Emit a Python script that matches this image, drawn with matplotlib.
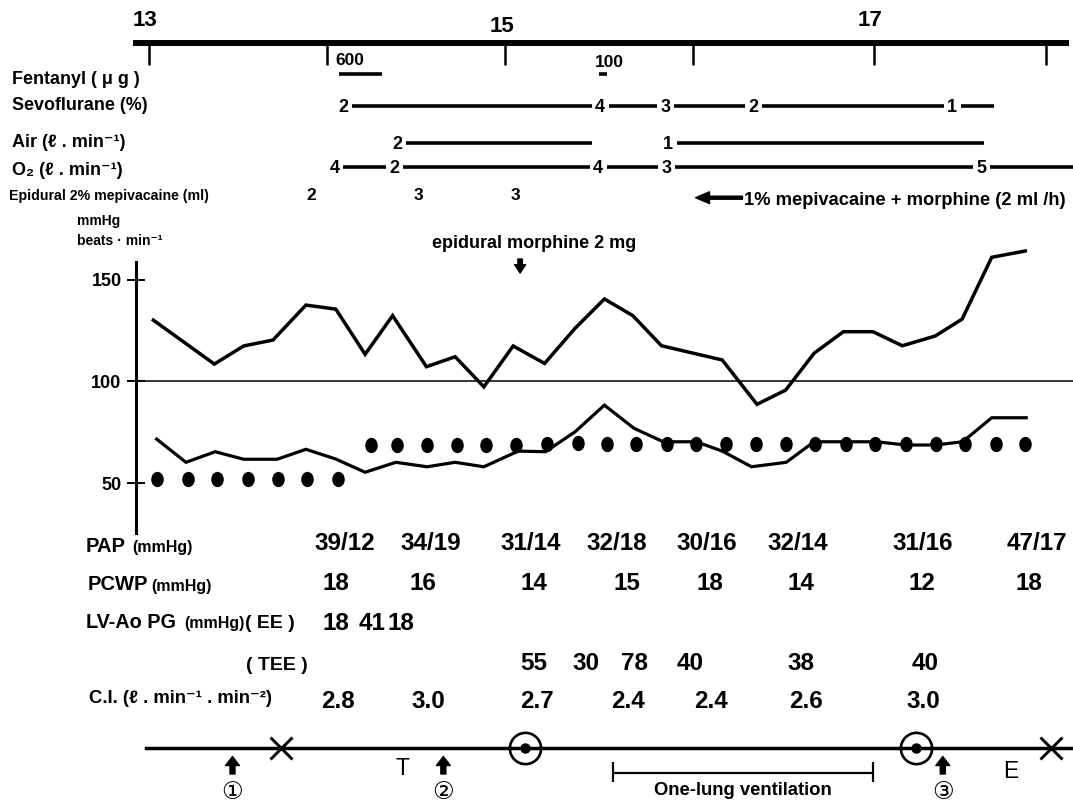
import matplotlib
matplotlib.use("Agg")
import matplotlib.pyplot as plt
from matplotlib.markers import MarkerStyle
from matplotlib.transforms import Affine2D, blended_transform_factory

plt.rcParams["font.family"] = ["Liberation Sans", "DejaVu Sans"]
plt.rcParams["font.weight"] = "bold"

W, H = 1073, 805

# ---- time base: minutes after 13:00 ----
hour_ticks = [0, 59, 118, 180, 240, 297]
hour_names = ["13", "15", "17"]
hour_name_pos = [0, 118, 240]

# ---- anaesthetic record ----
fentanyl_dose = ["600", "100"]
fentanyl_start = [62.9, 149.0]
fentanyl_stop = [77.1, 151.6]

sevo_times = [64.3, 149.4, 171.1, 200.0, 265.9]
sevo_vals = ["2", "4", "3", "2", "1"]
sevo_stops = [149.4, 171.1, 200.0, 265.9, 279.9]

air_times = [82.2, 171.9]
air_vals = ["2", "1"]
air_stops = [146.7, 276.3]

o2_times = [61.6, 81.2, 148.7, 171.5, 275.5]
o2_vals = ["4", "2", "4", "3", "5"]
o2_stops = [81.2, 148.7, 171.5, 275.5, 306.0]

mepi_times = [53.7, 89.1, 121.5]
mepi_vals = ["2", "3", "3"]
infusion_start = 181.0
morphine_time = 122.9

# ---- haemodynamics (mmHg, beats/min) ----
upper_t = [1.5, 21.7, 31.4, 41.1, 52.0, 61.9, 71.6, 80.7, 91.9, 101.4, 110.9, 120.6, 131.0, 141.1,
           150.8, 160.2, 169.7, 189.8, 201.3, 210.8, 220.2, 229.9, 239.7, 249.4, 260.3, 269.2, 279.0, 290.1]
upper_v = [130.1, 108.5, 117.4, 120.3, 137.5, 135.5, 113.3, 132.3, 107.2, 112.1, 97.3, 117.4, 108.8, 126.1,
           140.5, 132.3, 117.5, 110.5, 88.7, 95.7, 113.8, 124.4, 124.4, 117.5, 122.3, 130.6, 161.0, 164.1]

lower_t = [2.6, 12.3, 22.0, 31.4, 42.5, 52.0, 61.9, 71.6, 81.8, 92.1, 101.4, 110.9, 122.3, 131.3, 141.1,
           150.8, 160.6, 170.3, 181.2, 189.8, 199.5, 211.0, 220.2, 230.5, 240.8, 250.5, 260.3, 269.4, 279.0, 290.4]
lower_v = [71.6, 60.2, 65.4, 61.7, 61.7, 66.6, 61.8, 55.3, 60.2, 58.0, 60.2, 58.0, 65.7, 65.4, 75.2,
           88.3, 76.9, 70.3, 70.3, 65.7, 58.0, 60.2, 70.3, 70.3, 70.3, 68.7, 68.7, 70.3, 82.1, 82.1]

hr_t = [2.7, 12.9, 22.7, 32.8, 42.6, 52.3, 62.7, 73.5, 82.1, 92.1, 102.0, 111.7, 121.7, 131.7, 141.9,
        151.6, 161.4, 171.5, 181.2, 190.9, 201.0, 211.0, 220.5, 230.8, 240.5, 250.5, 260.5, 270.0, 280.3, 290.1]
hr_v = [51.8, 51.8, 51.8, 51.8, 51.8, 51.8, 51.8, 68.7, 68.7, 68.7, 68.7, 68.7, 68.7, 69.0, 69.8,
        69.0, 69.0, 69.0, 69.0, 69.0, 69.0, 69.0, 69.0, 69.0, 69.0, 69.0, 69.0, 69.0, 69.0, 69.0]

# ---- table ----
pap_t = [65.0, 93.2, 126.4, 155.0, 184.8, 214.9, 256.1, 294.0]
pap = ["39/12", "34/19", "31/14", "32/18", "30/16", "32/14", "31/16", "47/17"]
pcwp_t = [61.9, 90.9, 127.4, 158.3, 185.6, 215.9, 255.9, 291.2]
pcwp = [18, 16, 14, 15, 18, 14, 12, 18]
ee_t = [61.9, 73.9, 83.5]
ee = [18, 41, 18]
tee_t = [127.5, 144.7, 160.8, 179.1, 215.9, 256.8]
tee = [55, 30, 78, 40, 38, 40]
ci_t = [62.6, 92.4, 128.5, 158.6, 186.1, 217.5, 256.3]
ci = [2.8, 3.0, 2.7, 2.4, 2.4, 2.6, 3.0]

# ---- events ----
arrow_t = [27.7, 97.5, 262.8]
arrow_names = ["\u2460", "\u2461", "\u2462"]
cross_t = [43.9, 298.6]
scope_t = [124.5, 253.9]
letter_t = [84.1, 285.4]
letter_names = ["T", "E"]
olv_start, olv_stop = 153.7, 239.7


fig = plt.figure(figsize=(W / 100, H / 100), dpi=100)
ax = fig.add_axes([0, 0, 1, 1])
ax.set_xlim(-49.25, 305.9)
ax.set_ylim(-108.3, 287.5)
tr = blended_transform_factory(ax.transData, ax.transAxes)


def fy(py):
    return 1 - py / H


def label(px, py, s, size, **kw):
    ax.text(px / W, fy(py), s, fontsize=size, va="baseline", transform=ax.transAxes, **kw)


# y axis of the haemodynamic chart
for side in ["top", "right", "bottom"]:
    ax.spines[side].set_visible(False)
ax.spines["left"].set_position(("data", -4.2))
ax.spines["left"].set_bounds(25.3, 158.8)
ax.spines["left"].set_linewidth(2.2)
ax.set_xticks([])
ax.set_yticks([50, 100, 150])
ax.tick_params(axis="y", direction="inout", length=13, width=1.4, pad=4, labelsize=13)

# time bar
ax.plot([-5.2, 304.5], [fy(43)] * 2, transform=tr, color="k", lw=4.3, solid_capstyle="butt")
ax.vlines(hour_ticks, fy(65), fy(45), transform=tr, color="k", lw=1.8)
for t, name, base in zip(hour_name_pos, hour_names, [26.5, 32, 26]):
    ax.text(t - 1.2, fy(base), name, transform=tr, ha="center", va="baseline", fontsize=16)

# row labels
label(11.7, 84, "Fentanyl ( \u03bc g )", 12.9)
label(11.7, 110, "Sevoflurane (%)", 12.9)
label(11.7, 146.7, "Air (\u2113 . min\u207b\u00b9)", 13)
label(11.7, 175, "O\u2082 (\u2113 . min\u207b\u00b9)", 13)
label(9.3, 200, "Epidural 2% mepivacaine (ml)", 10.2)
label(77.3, 225, "mmHg", 10)
label(77.3, 245, "beats \u00b7 min\u207b\u00b9", 10)

# fentanyl
ax.hlines([fy(74.5)] * len(fentanyl_start), fentanyl_start, fentanyl_stop, transform=tr, color="k", lw=2.6)
for t, d, base in zip(fentanyl_start, fentanyl_dose, [65, 66.7]):
    ax.text(t - 1.2, fy(base), d, transform=tr, ha="left", va="baseline", fontsize=12.5)

GAP = 2.8


def drug_row(times, vals, stops, y):
    for t, v, stop in zip(times, vals, stops):
        ax.text(t, fy(y + 6), v, transform=tr, ha="center", va="baseline", fontsize=13)
        if stop in times:
            stop = stop - GAP
        ax.hlines(fy(y), t + GAP, stop, transform=tr, color="k", lw=2.6)


drug_row(sevo_times, sevo_vals, sevo_stops, 105.7)
drug_row(air_times, air_vals, air_stops, 142.7)
drug_row(o2_times, o2_vals, o2_stops, 167.3)

for t, v in zip(mepi_times, mepi_vals):
    ax.text(t, fy(200), v, transform=tr, ha="center", va="baseline", fontsize=12.5)

ax.annotate("", xy=(infusion_start, fy(197.7)), xytext=(infusion_start + 15.5, fy(197.7)),
            xycoords=tr, textcoords=tr,
            arrowprops=dict(facecolor="k", edgecolor="k", width=2.2, headwidth=8.5, headlength=10, shrink=0))
ax.text(infusion_start + 16, fy(205), "1% mepivacaine + morphine (2 ml /h)", transform=tr,
        ha="left", va="baseline", fontsize=13.2)

ax.text(morphine_time + 4.5, fy(248), "epidural morphine 2 mg", transform=tr,
        ha="center", va="baseline", fontsize=13)
ax.annotate("", xy=(morphine_time, fy(273)), xytext=(morphine_time, fy(259)),
            xycoords=tr, textcoords=tr,
            arrowprops=dict(facecolor="k", edgecolor="k", width=3.2, headwidth=8, headlength=6, shrink=0))

# haemodynamic traces
ax.hlines(100, -4.2, 306, color="k", lw=1.1)
ax.plot(upper_t, upper_v, color="k", lw=2.5, solid_joinstyle="miter")
ax.plot(lower_t, lower_v, color="k", lw=2.3, solid_joinstyle="miter")
dot = MarkerStyle("o", transform=Affine2D().scale(0.8, 1.0))
ax.plot(hr_t, hr_v, ls="none", marker=dot, ms=10, color="k")

# table
label(86, 552, "PAP", 14.5)
label(132.6, 552, "(mmHg)", 11.5)
label(88, 590.5, "PCWP", 14.5)
label(151.5, 590.5, "(mmHg)", 11.5)
label(86, 628.3, "LV-Ao PG", 14.3)
label(184, 628.3, "(mmHg)", 11.5)
label(245, 628.3, "( EE )", 14)
label(246, 670, "( TEE )", 14)
label(89, 703, "C.I. (\u2113 . min\u207b\u00b9 . min\u207b\u00b2)", 13.3)


def value_row(times, vals, base, fmt="{}"):
    for t, v in zip(times, vals):
        ax.text(t, fy(base), fmt.format(v), transform=tr, ha="center", va="baseline", fontsize=17.5)


value_row(pap_t, pap, 549.5)
value_row(pcwp_t, pcwp, 590)
value_row(ee_t, ee, 629.5)
value_row(tee_t, tee, 669.5)
value_row(ci_t, ci, 707.5, "{:.1f}")

# event line
ax.plot([-0.8, 306], [fy(748)] * 2, transform=tr, color="k", lw=2.5)
for t, name in zip(arrow_t, arrow_names):
    ax.annotate("", xy=(t, fy(756.5)), xytext=(t, fy(774)), xycoords=tr, textcoords=tr,
                arrowprops=dict(facecolor="k", edgecolor="k", width=3.6, headwidth=10, headlength=6.5, shrink=0))
    ax.text(t, fy(792), name, transform=tr, ha="center", va="center", fontsize=17.5,
            fontweight="normal", family=["DejaVu Sans", "Noto Sans CJK JP"])
ax.plot(cross_t, [fy(748)] * len(cross_t), transform=tr, ls="none", marker="x", ms=16, mew=2.1, color="k")
ax.plot(scope_t, [fy(748)] * len(scope_t), transform=tr, ls="none", marker="o", ms=22.5,
        mfc="none", mec="k", mew=1.9)
ax.plot(scope_t, [fy(748)] * len(scope_t), transform=tr, ls="none", marker="o", ms=6.5, color="k")
for t, name, base in zip(letter_t, letter_names, [775, 778]):
    ax.text(t, fy(base), name, transform=tr, ha="center", va="baseline", fontsize=16.5, fontweight="normal")

ax.hlines(fy(773.3), olv_start, olv_stop, transform=tr, color="k", lw=1.6)
ax.vlines([olv_start, olv_stop], fy(781.7), fy(761.7), transform=tr, color="k", lw=1.6)
ax.text((olv_start + olv_stop) / 2, fy(794.5), "One-lung ventilation", transform=tr,
        ha="center", va="baseline", fontsize=13.3)

fig.savefig("out.png", dpi=100)
